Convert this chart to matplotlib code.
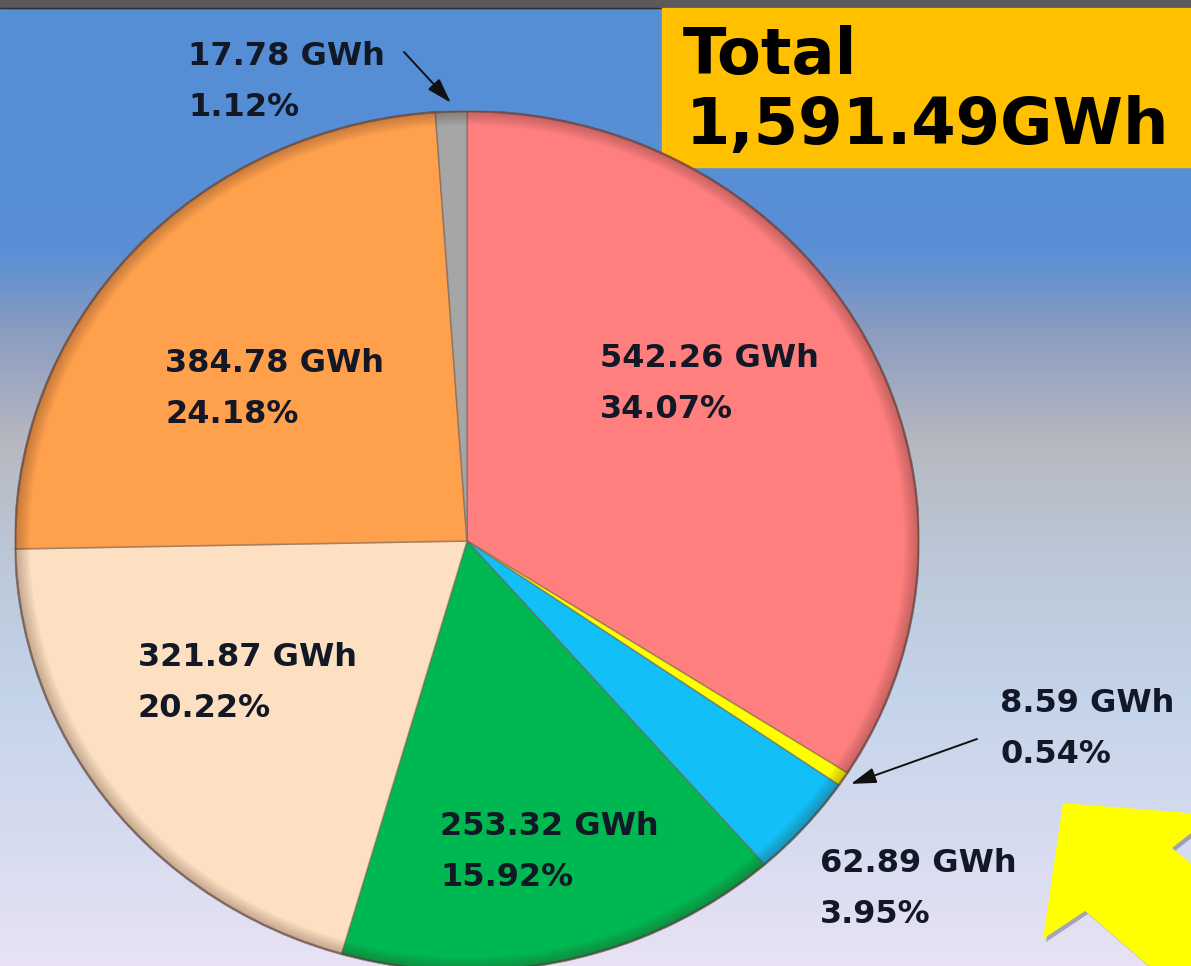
import matplotlib.pyplot as plt
import numpy as np
from matplotlib.patches import Rectangle, Polygon, Wedge
from matplotlib.colors import to_rgb

# data (GWh), clockwise from 12 o'clock
values_gwh = [542.26, 8.59, 62.89, 253.32, 321.87, 384.78, 17.78]
colors = ['#FF7F7F', '#FFFF00', '#12BFF7', '#00B852', '#FDE0C2', '#FFA04C', '#A6A6A6']

total = sum(values_gwh)
shares = [v / total * 100 for v in values_gwh]

# label anchors in pixels (left x, baseline of first line)
label_px = [(600, 367), (1000, 712), (820, 872), (440, 835), (138, 666), (165, 372), (188, 65)]
arrow_from = {1: (977, 739), 6: (404, 52)}

W, H = 1191, 966
fig = plt.figure(figsize=(W / 100, H / 100), dpi=100)


def fx(x):
    return x / W


def fy(y):
    return 1 - y / H


# background gradient
bg = fig.add_axes([0, 0, 1, 1])
stops_y = [0, 250, 330, 440, 560, 700, 966]
stops_c = np.array([to_rgb(c) for c in
                    ['#548ed6', '#5a8fd4', '#8a9cc0', '#b6b8c0', '#bcc8d8', '#c4d4ea', '#e8e2f4']])
yy = np.arange(H)
grad = np.stack([np.interp(yy, stops_y, stops_c[:, i]) for i in range(3)], axis=1)
bg.imshow(grad[:, None, :], aspect='auto', extent=[0, 1, 0, 1])
bg.set_xlim(0, 1)
bg.set_ylim(0, 1)
bg.axis('off')
bg.add_patch(Rectangle((0, fy(8)), 1, 1, color='#5a5a5a', zorder=2))
bg.plot([0, 1], [fy(8), fy(8)], color='#2e2e2e', lw=1, zorder=3)

# pie (slightly squashed vertically like the 3D original)
cx, cy, rx, ry = 467, 541, 452, 430
ax = fig.add_axes([fx(cx - rx), fy(cy + ry), 2 * rx / W, 2 * ry / H])
wedges, _ = ax.pie(values_gwh, colors=colors, startangle=90, counterclock=False,
                   radius=1, wedgeprops=dict(edgecolor=(0.45, 0.35, 0.3, 0.45), linewidth=1.2))
ax.set_aspect('auto')
ax.set_xlim(-1, 1)
ax.set_ylim(-1, 1)
ax.axis('off')

# darker rim for a bevel look
for k in range(8):
    ax.add_patch(Wedge((0, 0), 1, 0, 360, width=0.004 * (k + 1),
                       facecolor=(0.25, 0.15, 0.1, 0.04), edgecolor='none'))
ax.add_patch(Wedge((0, 0), 1, 0, 360, width=0.001, facecolor='none',
                   edgecolor=(0.3, 0.2, 0.2, 0.4), linewidth=1.5))

txt_kw = dict(fontsize=23, fontweight='bold', color='#121826', family='DejaVu Sans',
              ha='left', va='baseline')
for i, (v, p) in enumerate(zip(values_gwh, shares)):
    x, y = label_px[i]
    fig.text(fx(x), fy(y), f'{v:.2f} GWh', **txt_kw)
    fig.text(fx(x), fy(y + 51), f'{p:.2f}%', **txt_kw)
    if i in arrow_from:
        w = wedges[i]
        mid = np.deg2rad((w.theta1 + w.theta2) / 2)
        r = 1.02
        sx, sy = arrow_from[i]
        ax.annotate('', xy=(r * np.cos(mid), r * np.sin(mid)), xycoords='data',
                    xytext=(fx(sx), fy(sy)), textcoords='figure fraction',
                    arrowprops=dict(arrowstyle='-|>,head_length=0.9,head_width=0.28',
                                    color='#111111', lw=1.4,
                                    mutation_scale=17, shrinkA=0, shrinkB=0),
                    annotation_clip=False)

# total box
bg.add_patch(Rectangle((fx(662), fy(167)), 1 - fx(662), fy(8) - fy(167),
                       color='#FFC000', zorder=4))
bg.text(fx(683), fy(74), 'Total', fontsize=46, fontweight='bold', color='black',
        family='DejaVu Sans', ha='left', va='baseline', zorder=5)
bg.text(fx(686), fy(144), f'{total:,.2f}GWh', fontsize=46, fontweight='bold',
        color='black', family='DejaVu Sans', ha='left', va='baseline', zorder=5)

# big yellow arrow pointing at the small slices
arrow_pts = [(1063, 803), (1200, 814), (1200, 826), (1172, 848), (1200, 871),
             (1200, 980), (1165, 980), (1085, 911), (1043, 939)]
shadow = [(fx(x + 3), fy(y + 3)) for x, y in arrow_pts]
bg.add_patch(Polygon(shadow, closed=True, facecolor=(0.2, 0.2, 0.3, 0.35),
                     edgecolor='none', zorder=4))
bg.add_patch(Polygon([(fx(x), fy(y)) for x, y in arrow_pts], closed=True,
                     facecolor='#FFFF00', edgecolor='none', zorder=5))

fig.savefig('out.png', dpi=100)
